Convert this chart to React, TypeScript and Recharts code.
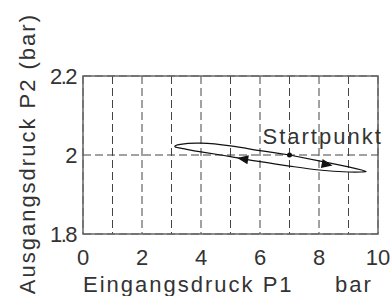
import {
  LineChart,
  Line,
  XAxis,
  YAxis,
  CartesianGrid,
  ReferenceArea,
  ReferenceDot,
} from 'recharts';

// Eingangsdruck P1 (bar) – loop starts at the Startpunkt, runs right on the
// upper branch and comes back on the lower branch
const loopP1 = [7.0, 8.0, 9.0, 9.45, 9.6, 9.45, 9.0, 8.0, 7.0, 6.0, 5.0, 4.0, 3.4, 3.12, 3.3, 4.0, 5.0, 6.0, 7.0];
// Ausgangsdruck P2 (bar)
const loopP2 = [2.0, 1.985, 1.970, 1.962, 1.958, 1.957, 1.957, 1.962, 1.972, 1.983, 1.996, 2.008, 2.016, 2.021, 2.027, 2.030, 2.023, 2.011, 2.0];

const xTicks = [0, 1, 2, 3, 4, 5, 6, 7, 8, 9, 10];
const yTicks = [1.8, 2, 2.2];

const startP1 = 7;
const startP2 = 2.0;

// direction markers on the loop
const arrowP1 = [8.26, 5.43];
const arrowP2 = [1.976, 1.99];
const arrowAngle = [11, 189];

const data = loopP1.map((x, i) => ({ x, y: loopP2[i] }));

const FONT = '"Liberation Sans", Arial, sans-serif';
const TEXT = '#333';

function Arrow(props: any) {
  const { cx, cy, angle } = props;
  if (cx == null || cy == null) return null;
  return (
    <polygon
      points="6,0 -5,-4.5 -5,4.5"
      fill="#111"
      transform={`translate(${cx},${cy}) rotate(${angle})`}
    />
  );
}

function StartLabel(props: any) {
  const vb = props.viewBox || {};
  const cx = vb.x + (vb.width || 0) / 2;
  const cy = vb.y + (vb.height || 0) / 2;
  return (
    <text x={cx - 27} y={cy - 11} fill={TEXT} fontSize={22} fontFamily={FONT} letterSpacing={2}>
      Startpunkt
    </text>
  );
}

function XTitle(props: any) {
  const vb = props.viewBox || {};
  const y = vb.y + vb.height + 28;
  return (
    <g fill={TEXT} fontSize={22} fontFamily={FONT} letterSpacing={2}>
      <text x={vb.x} y={y}>Eingangsdruck P1</text>
      <text x={vb.x + 252} y={y}>bar</text>
    </g>
  );
}

function YTitle(props: any) {
  const vb = props.viewBox || {};
  const x = vb.x - 8;
  const y = vb.y - 63;
  return (
    <text
      x={x}
      y={y}
      transform={`rotate(-90, ${x}, ${y})`}
      textAnchor="end"
      fill={TEXT}
      fontSize={22}
      fontFamily={FONT}
      letterSpacing={2}
    >
      Ausgangsdruck P2 (bar)
    </text>
  );
}

export default function App() {
  return (
    <div style={{ position: 'absolute', left: 0, top: 0 }}>
      <LineChart
        width={392}
        height={296}
        data={data}
        margin={{ top: 76, right: 14, bottom: 32, left: 43 }}
      >
        <CartesianGrid stroke="#444" strokeDasharray="8 4" strokeWidth={1} />
        <XAxis
          type="number"
          dataKey="x"
          domain={[0, 10]}
          ticks={xTicks}
          interval={0}
          tickFormatter={(v: number) => (v % 2 === 0 ? String(v) : '')}
          axisLine={false}
          tickLine={false}
          tickSize={0}
          tickMargin={15}
          height={30}
          tick={{ fontSize: 22, fill: TEXT, fontFamily: FONT }}
          label={<XTitle />}
        />
        <YAxis
          type="number"
          domain={[1.8, 2.2]}
          ticks={yTicks}
          interval={0}
          allowDataOverflow
          tickFormatter={(v: number) => String(v)}
          axisLine={false}
          tickLine={false}
          tickSize={0}
          tickMargin={7}
          width={40}
          tick={{ fontSize: 22, fill: TEXT, fontFamily: FONT, letterSpacing: -1.5 }}
          label={<YTitle />}
        />
        <ReferenceArea x1={0} x2={10} y1={1.8} y2={2.2} fill="none" stroke="#666" strokeWidth={1.5} />
        <Line
          dataKey="y"
          type="natural"
          stroke="#111"
          strokeWidth={1.2}
          dot={false}
          isAnimationActive={false}
        />
        {arrowP1.map((x, i) => (
          <ReferenceDot
            key={i}
            x={x}
            y={arrowP2[i]}
            r={4}
            shape={(p: any) => <Arrow {...p} angle={arrowAngle[i]} />}
          />
        ))}
        <ReferenceDot
          x={startP1}
          y={startP2}
          r={2.5}
          fill="#111"
          stroke="none"
          label={<StartLabel />}
        />
      </LineChart>
    </div>
  );
}
